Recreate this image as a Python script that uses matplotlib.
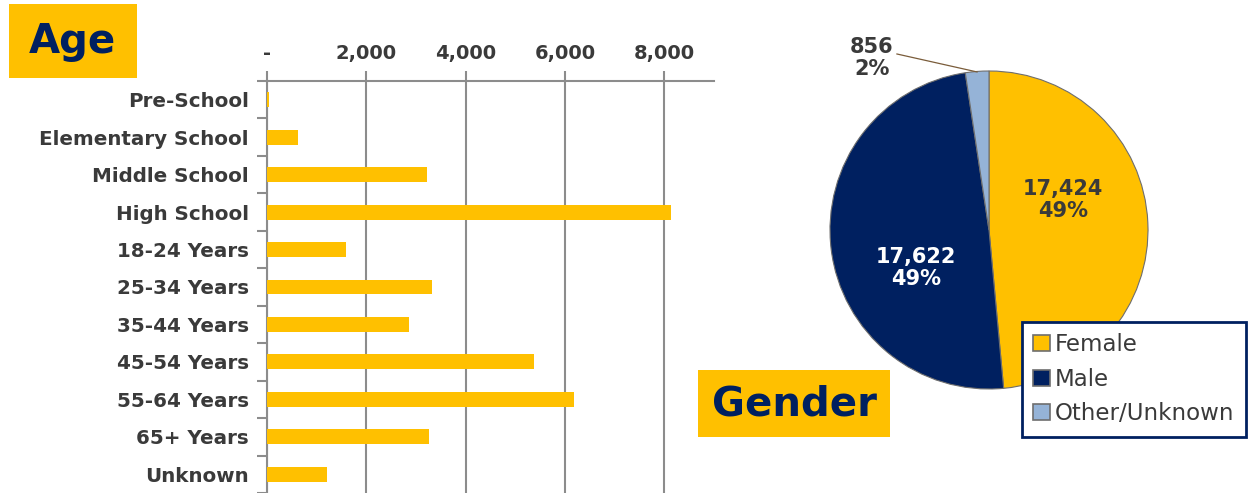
import matplotlib
matplotlib.use("Agg")
import matplotlib.pyplot as plt
from matplotlib.patches import Rectangle
from matplotlib.ticker import FixedLocator, FuncFormatter
import numpy as np

plt.rcParams['font.family'] = ['DejaVu Sans']

# ---- data ----
age_categories = ["Pre-School", "Elementary School", "Middle School", "High School",
                  "18-24 Years", "25-34 Years", "35-44 Years", "45-54 Years",
                  "55-64 Years", "65+ Years", "Unknown"]
age_values = [40, 630, 3230, 8130, 1585, 3330, 2850, 5385, 6175, 3260, 1200]
age_ticks = [0, 2000, 4000, 6000, 8000]

gender_labels = ["Female", "Male", "Other/Unknown"]
gender_values = [17424, 17622, 856]
gender_pct_text = ["49%", "49%", "2%"]

GOLD = "#FFC000"
NAVY = "#002060"
LIGHT = "#95B3D7"
TXT = "#3a3a3a"
GRID = "#8c8c8c"

W, H = 1258, 493
fig = plt.figure(figsize=(W / 100, H / 100), dpi=100)

def fx(px):
    return px / W

def fy(py):
    return 1 - py / H

# ---- bar chart ----
ax = fig.add_axes([fx(267), 0, fx(714) - fx(267), fy(81)])
y = np.arange(len(age_categories))
ax.barh(y, age_values, height=0.4, color=GOLD, zorder=3)
ax.set_xlim(0, 9000)
ax.set_ylim(len(age_categories) - 0.5, -0.5)
ax.xaxis.tick_top()
ax.set_xticks(age_ticks)
ax.xaxis.set_major_formatter(FuncFormatter(lambda v, p: "-" if v == 0 else f"{int(v):,}"))
ax.tick_params(axis='x', which='major', direction='out', length=7, width=1.5, color=GRID,
               labelsize=14, labelcolor=TXT, pad=6)
for lbl in ax.get_xticklabels():
    lbl.set_fontweight('bold')
ax.grid(axis='x', color=GRID, linewidth=1.5, zorder=0)
ax.set_yticks(y)
ax.set_yticklabels(age_categories, fontsize=14.3, fontweight='bold', color=TXT)
ax.tick_params(axis='y', which='major', length=0, pad=13)
ax.yaxis.set_minor_locator(FixedLocator(np.arange(-0.5, len(age_categories) + 0.5, 1)))
ax.tick_params(axis='y', which='minor', direction='out', length=7, width=1.5, color=GRID)
for s in ['right', 'bottom']:
    ax.spines[s].set_visible(False)
for s in ['top', 'left']:
    ax.spines[s].set_color(GRID)
    ax.spines[s].set_linewidth(1.5)

# ---- pie chart ----
cx, cy, r = 989, 230, 159
pax = fig.add_axes([fx(cx - r), fy(cy + r), 2 * r / W, 2 * r / H])
wedges, _ = pax.pie(gender_values, colors=[GOLD, NAVY, LIGHT], startangle=90,
                    counterclock=False, radius=1,
                    wedgeprops=dict(edgecolor="#6e6e6e", linewidth=0.8))
pax.set_xlim(-1.0, 1.0)
pax.set_ylim(-1.0, 1.0)
pax.set_aspect('equal')
pax.axis('off')

pax.text(0.465, 0.19, f"{gender_values[0]:,}\n{gender_pct_text[0]}", ha='center', va='center',
         fontsize=15, fontweight='bold', color=TXT, linespacing=1.1)
pax.text(-0.46, -0.24, f"{gender_values[1]:,}\n{gender_pct_text[1]}", ha='center', va='center',
         fontsize=15, fontweight='bold', color='white', linespacing=1.1)
pax.text(-0.736, 1.08, f"{gender_values[2]:,}\n{gender_pct_text[2]}", ha='center', va='center',
         fontsize=15, fontweight='bold', color=TXT, linespacing=1.1, clip_on=False)
pax.plot([-0.579, -0.075], [1.107, 0.994], color="#7a5c3a", linewidth=0.9, clip_on=False)

leg = fig.legend(wedges, gender_labels, loc='upper left',
                 bbox_to_anchor=(fx(1022), fy(322)), frameon=True, fancybox=False,
                 framealpha=1, fontsize=16.5, handlelength=0.7, handleheight=0.7,
                 handletextpad=0.25, labelspacing=0.5, borderpad=0.5, borderaxespad=0)
leg.get_frame().set_edgecolor(NAVY)
leg.get_frame().set_linewidth(2)
for t in leg.get_texts():
    t.set_color(TXT)
for h in leg.legend_handles:
    h.set_edgecolor("#6e6e6e")
    h.set_linewidth(1.2)

# ---- title boxes ----
fig.patches.append(Rectangle((fx(9), fy(78)), fx(137) - fx(9), fy(4) - fy(78),
                             transform=fig.transFigure, facecolor=GOLD, edgecolor='none'))
fig.text(fx(72), fy(42), "Age", ha='center', va='center', fontsize=29,
         fontweight='bold', color=NAVY)
fig.patches.append(Rectangle((fx(698), fy(437)), fx(890) - fx(698), fy(370) - fy(437),
                             transform=fig.transFigure, facecolor=GOLD, edgecolor='none'))
fig.text(fx(794), fy(404), "Gender", ha='center', va='center', fontsize=29,
         fontweight='bold', color=NAVY)

fig.savefig("out.png", dpi=100)
